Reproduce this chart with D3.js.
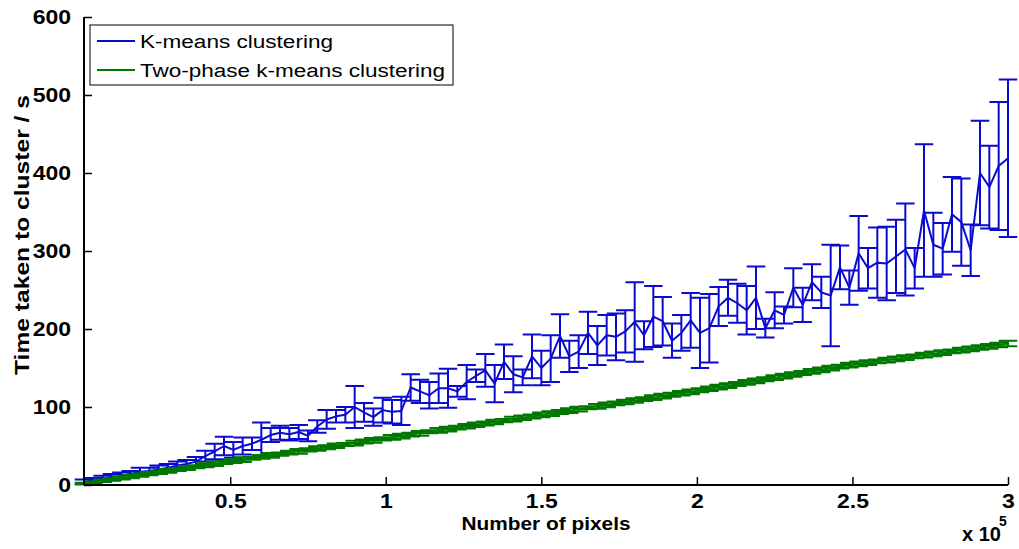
<!DOCTYPE html>
<html><head><meta charset="utf-8">
<script src="https://cdn.jsdelivr.net/npm/d3@7/dist/d3.min.js"></script>
<style>body{margin:0;background:#fff} svg{display:block}</style>
</head><body><svg id="chart" width="1019" height="549"></svg>
<script>
// Number of pixels (thousands)
const pixelsK = [3,6,9,12,15,18,21,24,27,30,33,36,39,42,45,48,51,54,57,60,
  63,66,69,72,75,78,81,84,87,90,93,96,99,102,105,108,111,114,117,120,
  123,126,129,132,135,138,141,144,147,150,153,156,159,162,165,168,171,174,177,180,
  183,186,189,192,195,198,201,204,207,210,213,216,219,222,225,228,231,234,237,240,
  243,246,249,252,255,258,261,264,267,270,273,276,279,282,285,288,291,294,297,300];
const kmeansMean = [4,6,8,10,12,14,17,18,20,22,25,27,30,37,43,50,45,50,53,58,
  64,67,65,68,63,75,84,88,90,100,93,87,96,94,95,125,120,115,124,124,
  120,132,140,147,130,158,142,138,165,150,162,191,165,171,195,179,192,190,197,209,
  192,216,210,185,195,211,195,201,229,240,233,224,240,201,224,218,253,231,260,247,
  243,279,253,297,278,285,284,293,302,278,352,308,303,347,337,301,400,382,409,419];
const kmeansErr = [3,3,4,4,4,4,5,4,5,5,5,5,6,7,10,12,10,11,8,22,
  9,9,8,9,7,8,12,8,10,27,12,11,16,15,18,17,15,17,19,25,
  7,22,8,21,24,22,23,10,28,22,30,28,20,21,27,25,26,30,27,51,
  18,39,31,22,23,35,45,44,25,23,25,31,40,12,23,11,25,22,23,20,
  65,28,22,48,26,45,47,47,59,26,85,41,33,48,56,33,67,53,82,101];
const twoPhaseMean = [1.9,3.6,5.6,7.1,9.2,10.8,12.7,14.6,16.2,18.1,19.9,21.8,23.4,25.3,27.2,28.9,30.6,32.5,34.3,36.0,
  37.9,39.6,41.5,43.1,45.0,46.8,48.4,50.3,52.0,53.8,55.7,57.3,59.1,61.0,62.7,64.6,66.3,68.2,70.0,71.7,
  73.6,75.3,77.2,78.9,80.8,82.5,84.4,86.2,87.9,89.8,91.6,93.5,95.3,97.2,99.0,100.9,102.7,104.6,106.4,108.3,
  110.1,112.0,113.9,115.7,117.6,119.4,121.5,123.4,125.5,127.4,129.5,131.5,133.6,135.5,137.6,139.6,141.7,143.6,145.7,147.7,
  149.8,151.7,153.8,155.3,157.0,158.5,160.2,161.7,163.4,164.9,166.6,168.1,169.8,171.3,173.0,174.6,176.3,177.8,179.5,181.5];
const twoPhaseErr = [1,1,1.5,1.5,2,2,2,2,2,2.5,2,2.5,2,2.5,3,2,2.5,3,2,2.5,
  3,2,2.5,3,2,3,2.5,3,2,3,2.5,3,2,3,3,2.5,3,2,3,3,
  2.5,3,3,2.5,3,2,3,3,2.5,3,3,2.5,3,3,2,3,3,2.5,3,3,
  2.5,3,3,2.5,3,3,2.5,3,3,3,2.5,3,3,2.5,3,3,3,2.5,3,3,
  3,2.5,3,3,3,2.5,3,3,3,2.5,3,3,3,2.5,3,3,3,3,3,3.5];
const seriesNames = ["K-means clustering","Two-phase k-means clustering"];
const seriesColors = ["#0a0ad0","#007800"];
const yTicks = [0,100,200,300,400,500,600];
const xTicks = [50,100,150,200,250,300];
const xTickLabels = ["0.5","1","1.5","2","2.5","3"];

const svg = d3.select("#chart");
const x = d3.scaleLinear().domain([d3.min(pixelsK), d3.max(pixelsK)]).range([84, 1008]);
const y = d3.scaleLinear().domain([0, 600]).range([485, 17]);
const tee = (d3.max(pixelsK) - d3.min(pixelsK)) / 100;
const FONT = "'Liberation Sans', Arial, Helvetica, sans-serif";

function stretch(sel, k) {
  sel.each(function () {
    const w = this.getComputedTextLength();
    this.setAttribute("textLength", w * k);
    this.setAttribute("lengthAdjust", "spacingAndGlyphs");
  });
}

function drawSeries(means, errs, color) {
  const g = svg.append("g").attr("fill", "none").attr("stroke", color).attr("stroke-width", 2);
  let p = "";
  pixelsK.forEach((xv, i) => {
    const lo = y(means[i] - errs[i]), hi = y(means[i] + errs[i]), cx = x(xv);
    p += `M${cx},${lo}V${hi}`;
    p += `M${x(xv - tee)},${lo}H${x(xv + tee)}`;
    p += `M${x(xv - tee)},${hi}H${x(xv + tee)}`;
  });
  g.append("path").attr("d", p);
  const line = d3.line().x((d, i) => x(pixelsK[i])).y(d => y(d));
  g.append("path").attr("d", line(means)).attr("stroke-linejoin", "round");
}
drawSeries(kmeansMean, kmeansErr, seriesColors[0]);
drawSeries(twoPhaseMean, twoPhaseErr, seriesColors[1]);

// Axes
const yAxis = d3.axisLeft(y).tickValues(yTicks).tickSize(-8).tickPadding(13);
const gy = svg.append("g").attr("transform", "translate(84,0)").call(yAxis);
const xAxis = d3.axisBottom(x).tickValues(xTicks).tickFormat((d, i) => xTickLabels[i]).tickSize(-8).tickPadding(9);
const gx = svg.append("g").attr("transform", "translate(0,485)").call(xAxis);
[gx, gy].forEach(g => {
  g.select(".domain").attr("stroke", "#000").attr("stroke-width", 2);
  g.selectAll(".tick line").attr("stroke", "#000").attr("stroke-width", 1.5);
  g.selectAll(".tick text").attr("fill", "#000").style("font-family", FONT)
    .style("font-size", "20px").style("font-weight", "bold");
});
gx.select(".domain").attr("d", "M84,0H1008");
gy.select(".domain").attr("d", "M0,485V17");
stretch(gy.selectAll(".tick text"), 1.15);
stretch(gx.selectAll(".tick text"), 1.15);

// Exponent
svg.append("text").attr("x", 962).attr("y", 541).attr("fill", "#000")
  .style("font-family", FONT).style("font-size", "20px").style("font-weight", "bold")
  .text("x 10");
svg.append("text").attr("x", 999).attr("y", 526).text("5")
  .style("font-family", FONT).style("font-size", "14px").style("font-weight", "bold");

// Axis labels
svg.append("text").attr("x", 546).attr("y", 530).attr("text-anchor", "middle")
  .style("font-family", FONT).style("font-size", "18px").style("font-weight", "bold")
  .attr("textLength", 169).attr("lengthAdjust", "spacingAndGlyphs")
  .text("Number of pixels");
svg.append("text").attr("transform", "translate(29,235) rotate(-90)").attr("text-anchor", "middle")
  .style("font-family", FONT).style("font-size", "20px").style("font-weight", "bold")
  .attr("textLength", 280).attr("lengthAdjust", "spacingAndGlyphs")
  .text("Time taken to cluster / s");

// Legend
const lg = svg.append("g");
lg.append("rect").attr("x", 90).attr("y", 25).attr("width", 363).attr("height", 60)
  .attr("fill", "#fff").attr("stroke", "#000").attr("stroke-width", 1);
const legendY = [41, 70];
const legendW = [193, 305];
seriesNames.forEach((name, i) => {
  lg.append("line").attr("x1", 97).attr("x2", 135).attr("y1", legendY[i]).attr("y2", legendY[i])
    .attr("stroke", seriesColors[i]).attr("stroke-width", 2);
  lg.append("text").attr("x", 140).attr("y", legendY[i] + 7).text(name)
    .style("font-family", FONT).style("font-size", "18px")
    .attr("textLength", legendW[i]).attr("lengthAdjust", "spacingAndGlyphs");
});
</script></body></html>
